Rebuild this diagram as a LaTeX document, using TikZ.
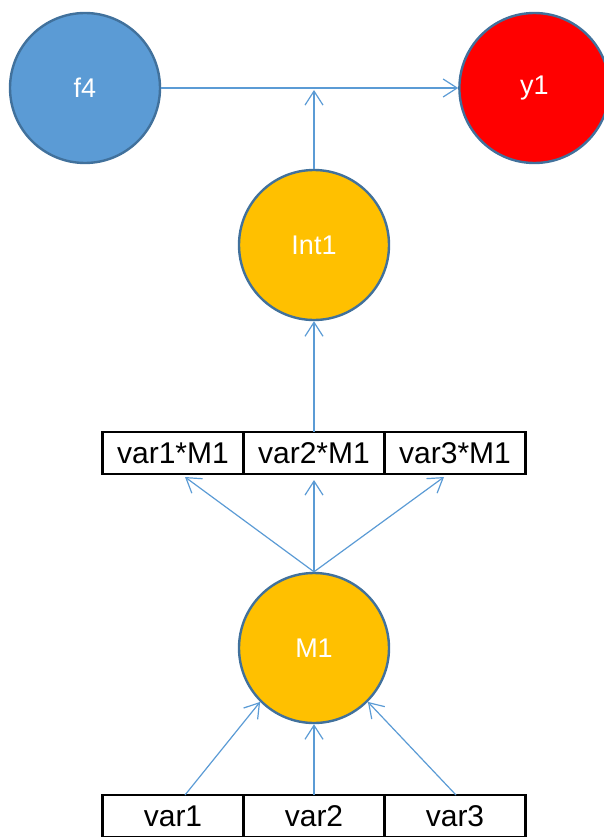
\documentclass[tikz,border=0pt]{standalone}
\usepackage{fontspec}
\setmainfont{Liberation Sans}
\usepackage{tikz}
\usetikzlibrary{arrows.meta,positioning}
\definecolor{PathBlue}{HTML}{5B9BD5}
\definecolor{EdgeBlue}{HTML}{41719C}
\definecolor{ModGold}{HTML}{FFC000}
\definecolor{OutRed}{HTML}{FF0000}
\tikzset{
  latent/.style={circle,draw=EdgeBlue,line width=2.4pt,minimum size=150pt,inner sep=0pt,text=white,font=\fontsize{27}{31}\selectfont},
  factor/.style={latent,fill=PathBlue},
  outcome/.style={latent,fill=OutRed},
  modnode/.style={latent,fill=ModGold},
  cell/.style={rectangle,draw=black,line width=2.5pt,minimum width=141pt,minimum height=42pt,outer sep=0pt,inner sep=0pt,font=\fontsize{30}{34}\selectfont},
  path/.style={-{Straight Barb[length=14pt,width=18pt]},line width=1.2pt,color=PathBlue},
}

\begin{document}
\begin{tikzpicture}[x=1pt,y=1pt]
  \useasboundingbox (0,0) rectangle (603,-837);

  % Top row
  \node[factor] (f4) at (85,-88) {f4};
  \node[outcome, right=297pt of f4] (y1) {y1};
  \coordinate (join) at (314,-88);

  % Interaction and moderator
  \node[modnode] (int1) at (314,-245) {Int1};
  \node[modnode] (m1) at (314,-648) {M1};

  % Product terms
  \node[cell] (p2) at (314,-453) {var2*M1};
  \node[cell, left=0pt of p2] (p1) {var1*M1};
  \node[cell, right=0pt of p2] (p3) {var3*M1};

  % Predictors
  \node[cell] (v2) at (314,-816) {var2};
  \node[cell, left=0pt of v2] (v1) {var1};
  \node[cell, right=0pt of v2] (v3) {var3};

  % Arrows at the top
  \draw[path] (f4) -- (y1);
  \draw[path, shorten >=2pt] (int1) -- (join);
  \draw[path] (p2.north) -- (int1);

  % Arrows from M1
  \draw[path] (m1.north) -- ([xshift=12pt,yshift=-3pt]p1.south);
  \draw[path, shorten >=6pt] (m1.north) -- (p2.south);
  \draw[path] (m1.north) -- ([xshift=-11pt,yshift=-3pt]p3.south);

  % Arrows into M1
  \draw[path] ([xshift=12pt]v1.north) -- (m1.-135);
  \draw[path] (v2.north) -- (m1.south);
  \draw[path] ([xshift=1pt]v3.north) -- (m1.-45);
\end{tikzpicture}
\end{document}
